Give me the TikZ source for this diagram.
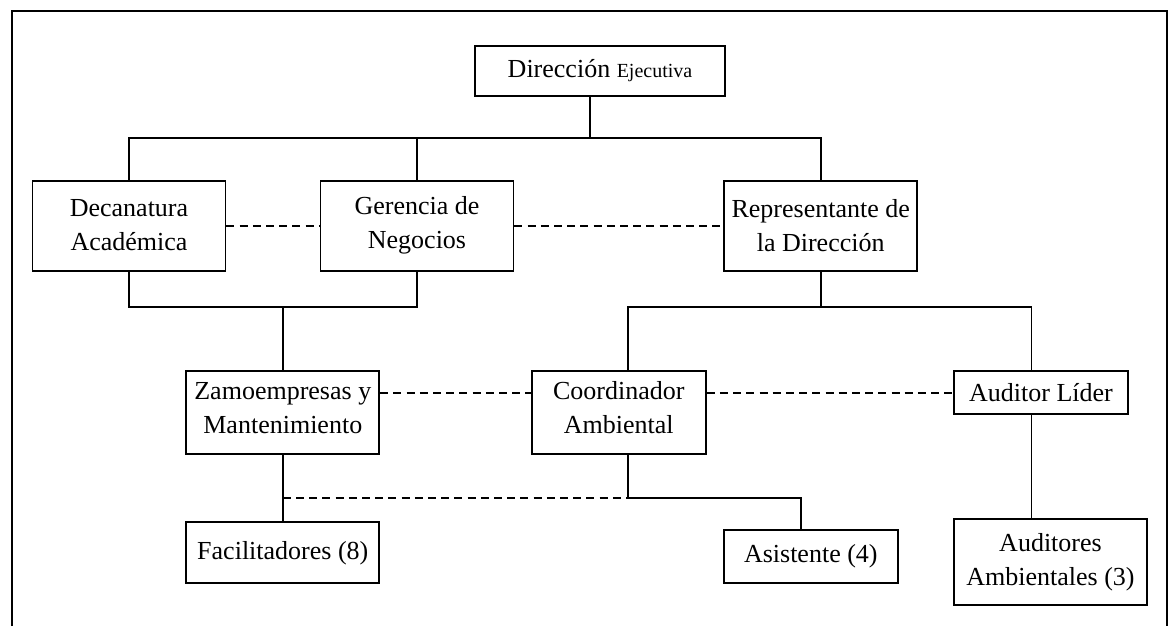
\documentclass[tikz,border=0pt]{standalone}
\usepackage{fontspec}
\setmainfont{Liberation Serif}
\usetikzlibrary{positioning, calc}

\begin{document}
\begin{tikzpicture}[x=0.5pt, y=-0.5pt,
        every node/.style={font=\fontsize{13}{17}\selectfont, align=center},
        caja/.style={rectangle, draw=black, line width=0.9pt, inner sep=0pt},
        ancha/.style={caja, minimum width=96.5pt},
        angosta/.style={caja, minimum width=87pt},
        alto/.style={text depth=5pt},
        linea/.style={line width=0.9pt},
        enlace/.style={line width=0.9pt, dash pattern=on 4pt off 2.6pt}
    ]
        \useasboundingbox (0,0) rectangle (1171,626);

        % Marco
        \draw[linea] (12,626) -- (12,11) -- (1167,11) -- (1167,626);

        % Nodos
        \node[caja, minimum width=125pt, minimum height=25pt] (dir) at (600,71) {Dirección {\fontsize{10}{12}\selectfont Ejecutiva}};
        \node[ancha, minimum height=45pt] (deca) at (129,225.6) {Decanatura\\ Académica};
        \node[ancha, minimum height=45pt] (ger)  at (417,225.6) {Gerencia de\\ Negocios};
        \node[ancha, minimum height=45pt] (rep)  at (820.7,225.6) {Representante de\\ la Dirección};
        \node[ancha, alto, minimum height=41.5pt] (zamo) at (282.8,412.7) {Zamoempresas y\\ Mantenimiento};
        \node[angosta, alto, minimum height=41.5pt] (coord) at (618.8,412.7) {Coordinador\\ Ambiental};
        \node[angosta, minimum height=21.5pt] (aud) at (1041,392.7) {Auditor Líder};
        \node[ancha, minimum height=30.5pt] (fac) at (282.8,552.8) {Facilitadores (8)};
        \node[angosta, minimum height=26.5pt] (asis) at (810.8,556.7) {Asistente (4)};
        \node[ancha, minimum height=43pt] (audamb) at (1050.5,562) {Auditores\\ Ambientales (3)};

        % Puntos de union
        \coordinate (top) at (590,138.3);
        \coordinate (mid) at (282.8,307.3);
        \coordinate (rj)  at (820.7,307.3);
        \coordinate (cl)  at (628.3,307.3);
        \coordinate (cr)  at (1031.5,307.3);
        \coordinate (lj)  at (282.8,498);
        \coordinate (cj)  at (628.3,498);
        \coordinate (aj)  at (801,498);

        % Lineas de mando
        \draw[linea] (dir.south -| top) -- (top);
        \draw[linea] (deca.north) -- (deca.north |- top) -| (rep.north);
        \draw[linea] (ger.north) -- (ger.north |- top);
        \draw[linea] (deca.south) |- (mid) -| (ger.south);
        \draw[linea] (mid) -- (zamo.north);
        \draw[linea] (rep.south) -- (rj);
        \draw[linea] (cl |- coord.north) -- (cl) -- (cr) -- (cr |- aud.north);
        \draw[linea] (zamo.south) -- (fac.north);
        \draw[linea] (cj |- coord.south) -- (cj) -- (aj) -- (aj |- asis.north);
        \draw[linea] (cr |- aud.south) -- (cr |- audamb.north);

        % Lineas de coordinacion
        \draw[enlace] (deca.east) -- (ger.west);
        \draw[enlace] (ger.east) -- (rep.west);
        \draw[enlace] (zamo.east |- aud.west) -- (coord.west |- aud.west);
        \draw[enlace] (coord.east |- aud.west) -- (aud.west);
        \draw[enlace] (lj) -- (cj);
\end{tikzpicture}
\end{document}
